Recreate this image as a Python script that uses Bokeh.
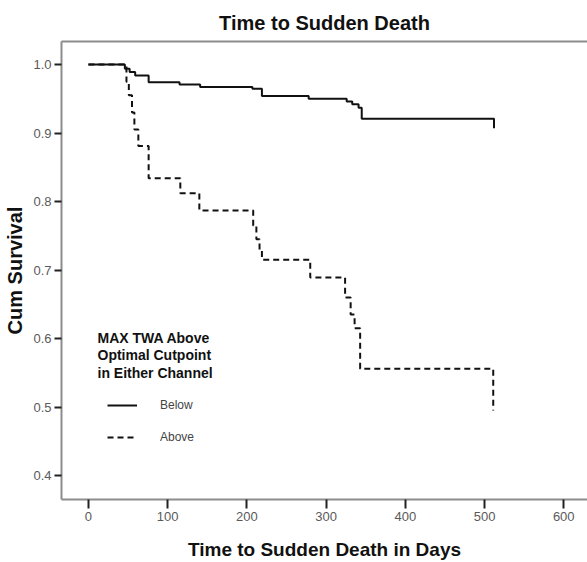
from bokeh.plotting import figure
from bokeh.models import (Range1d, LinearAxis, FixedTicker, Legend, LegendItem,
                          Label, PrintfTickFormatter)
from bokeh.embed import file_html
from bokeh.resources import INLINE

# ---- data ----
below_days = [0, 46, 52, 59, 76, 115, 141, 207, 219, 278, 326, 333, 341, 345, 512]
below_surv = [1.0, 0.994, 0.989, 0.984, 0.974, 0.971, 0.967, 0.9645, 0.954, 0.950,
              0.946, 0.942, 0.937, 0.921, 0.907]

above_days = [0, 48, 51, 55, 58, 63, 76, 116, 140, 208, 212, 216, 219, 280, 324,
              331, 336, 343, 511]
above_surv = [1.0, 0.975, 0.955, 0.93, 0.905, 0.881, 0.834, 0.812, 0.787, 0.765,
              0.745, 0.728, 0.715, 0.689, 0.66, 0.635, 0.615, 0.556, 0.495]

x_ticks = [0, 100, 200, 300, 400, 500, 600]
y_ticks = [0.4, 0.5, 0.6, 0.7, 0.8, 0.9, 1.0]

title_text = "Time to Sudden Death"
x_label = "Time to Sudden Death in Days"
y_label = "Cum Survival"
legend_title = ["MAX TWA Above", "Optimal Cutpoint", "in Either Channel"]
series_names = ["Below", "Above"]

FONT = "Liberation Sans"
AXIS_GRAY = "#8c8c8c"

p = figure(width=587, height=562, output_backend="svg", toolbar_location=None,
           x_range=Range1d(-34, 630), y_range=Range1d(0.365, 1.0336),
           min_border_left=61, min_border_right=0, min_border_top=41,
           min_border_bottom=63, background_fill_color="white",
           border_fill_color="white")
p.outline_line_color = None
p.grid.visible = False

p.title.text = title_text
p.title.align = "center"
p.title.text_font = FONT
p.title.text_font_size = "20px"
p.title.text_font_style = "bold"
p.title.text_color = "#111111"
p.title.standoff = 16

# axes
xa = p.xaxis[0]
xa.ticker = FixedTicker(ticks=x_ticks)
xa.axis_label = x_label
ya = p.yaxis[0]
ya.ticker = FixedTicker(ticks=y_ticks)
ya.formatter = PrintfTickFormatter(format="%.1f")
ya.axis_label = y_label
for ax in (xa, ya):
    ax.axis_line_color = AXIS_GRAY
    ax.axis_line_width = 2
    ax.major_tick_line_color = "#222222"
    ax.major_tick_line_width = 2
    ax.major_tick_in = 0
    ax.minor_tick_line_color = None
    ax.major_label_text_font = FONT
    ax.major_label_text_font_size = "13px"
    ax.major_label_text_color = "#5a5a5a"
    ax.axis_label_text_font = FONT
    ax.axis_label_text_font_style = "bold"
    ax.axis_label_text_color = "#111111"
xa.axis_label_text_font_size = "19px"
ya.axis_label_text_font_size = "20px"
xa.major_tick_out = 9
xa.major_label_standoff = 3
xa.axis_label_standoff = 15
ya.major_tick_out = 7
ya.major_label_standoff = 3
ya.axis_label_standoff = 4

# top frame line
top = LinearAxis(axis_line_color=AXIS_GRAY, axis_line_width=2,
                 major_tick_line_color=None, minor_tick_line_color=None,
                 major_label_text_font_size="0px", ticker=FixedTicker(ticks=[]))
p.add_layout(top, "above")

# curves
r_below = p.step(below_days, below_surv, mode="after", line_color="#111111",
                 line_width=2)
r_above = p.step(above_days, above_surv, mode="after", line_color="#111111",
                 line_width=2, line_dash="6 4")

# legend
legend = Legend(items=[LegendItem(label=series_names[0], renderers=[r_below]),
                       LegendItem(label=series_names[1], renderers=[r_above])],
                location=(46, 52), orientation="vertical",
                padding=0, margin=0, spacing=12,
                glyph_width=30, glyph_height=20, label_height=20,
                label_standoff=23, border_line_color=None,
                background_fill_alpha=0,
                label_text_font=FONT, label_text_font_size="12px",
                label_text_color="#444444")
p.add_layout(legend, "center")

for i, line in enumerate(legend_title):
    p.add_layout(Label(x=36, y=162 - i * 17.5, x_units="screen", y_units="screen",
                       text=line, text_font=FONT, text_font_size="14px",
                       text_font_style="bold", text_color="#111111",
                       text_baseline="middle", text_align="left"))

open("out.html", "w").write(file_html(p, INLINE))
